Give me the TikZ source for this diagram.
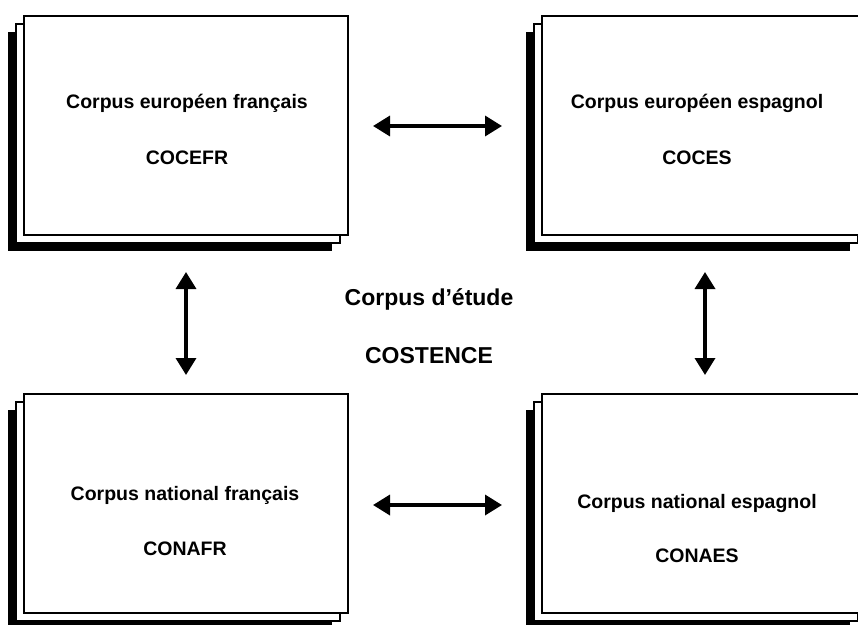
\documentclass[tikz,border=0pt]{standalone}
\usepackage{fontspec}
\setmainfont{Liberation Sans}
\usetikzlibrary{arrows.meta,shadows}

\begin{document}
\begin{tikzpicture}[x=1pt, y=-1pt,
        corpus/.style={draw, line width=2pt, fill=white, inner sep=0pt,
            minimum width=324pt, minimum height=219pt,
            general shadow={fill=black, shadow xshift=-16pt, shadow yshift=-16pt},
            copy shadow={shadow xshift=-8pt, shadow yshift=-8pt}},
        txt/.style={anchor=base, font=\fontsize{19.5}{22}\selectfont\bfseries},
        bigtxt/.style={anchor=base, font=\fontsize{23}{26}\selectfont\bfseries},
        link/.style={{Triangle[length=17pt,width=20pt]}-{Triangle[length=17pt,width=20pt]}, line width=3.5pt}]
        \useasboundingbox (0,0) rectangle (858,624);

        % the four corpora
        \node[corpus] (cocefr) at (186,125.5) {};
        \node[corpus] (coces) at (704,125.5) {};
        \node[corpus] (conafr) at (186,503.5) {};
        \node[corpus] (conaes) at (704,503.5) {};

        \node[txt] (cocefr1) at (187,108) {Corpus européen français};
        \node[txt] (cocefr2) at (187,164) {COCEFR};
        \node[txt] (coces1) at (697,108) {Corpus européen espagnol};
        \node[txt] (coces2) at (697,164) {COCES};
        \node[txt] (conafr1) at (185,500) {Corpus national français};
        \node[txt] (conafr2) at (185,555) {CONAFR};
        \node[txt] (conaes1) at (697,508) {Corpus national espagnol};
        \node[txt] (conaes2) at (697,562) {CONAES};

        % study corpus
        \node[bigtxt] (etude) at (429,305) {Corpus d’étude};
        \node[bigtxt] (costence) at (429,363) {COSTENCE};

        % arrow ends
        \coordinate (fr-es-top1) at (373,126);
        \coordinate (fr-es-top2) at (502,126);
        \coordinate (fr-es-bot1) at (373,505);
        \coordinate (fr-es-bot2) at (502,505);
        \coordinate (fr-eu-nat1) at (186,272);
        \coordinate (fr-eu-nat2) at (186,375);
        \coordinate (es-eu-nat1) at (705,272);
        \coordinate (es-eu-nat2) at (705,375);

        \draw[link] (fr-es-top1) -- (fr-es-top2);
        \draw[link] (fr-es-bot1) -- (fr-es-bot2);
        \draw[link] (fr-eu-nat1) -- (fr-eu-nat2);
        \draw[link] (es-eu-nat1) -- (es-eu-nat2);
    \end{tikzpicture}
\end{document}
